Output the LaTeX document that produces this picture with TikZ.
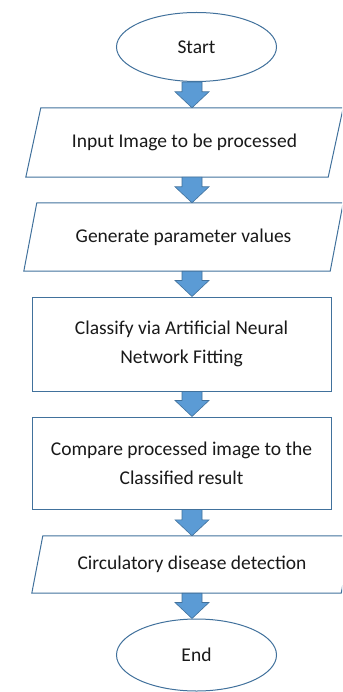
\documentclass[tikz,border=0pt]{standalone}
\usepackage{fontspec}
\setmainfont{Carlito}
\usetikzlibrary{shapes.geometric,calc}
\definecolor{edgeblue}{RGB}{65,113,156}
\definecolor{fillblue}{RGB}{91,155,213}
\tikzset{
  outline/.style={draw=edgeblue, line width=1pt},
  txt/.style={font=\fontsize{19.5}{29}\selectfont, text=black!90, align=center, inner sep=0pt},
  terminal/.style={txt, ellipse, outline, fill=white},
  procbox/.style={txt, rectangle, outline, fill=white},
  iobox/.style={txt, rectangle},
  arrowstyle/.style={fill=fillblue, draw=edgeblue, line width=0.6pt, line join=miter},
}
% parallelogram drawn over the frame of a plain node, top edge shifted right
\newcommand\ioframe[2]{\draw[outline] ($(#1.north west)+(#2,0)$) -- (#1.north east)
  -- ($(#1.south east)+(-#2,0)$) -- (#1.south west) -- cycle;}
% block arrow from the bottom of one node to the top of the next
\newcommand\flowarrow[2]{\draw[arrowstyle] let \p1=(#1.south -| axis), \p2=(#2.north -| axis) in
  (\x1-10pt,\y1) -- (\x1+10pt,\y1) -- (\x1+10pt,\y2+16pt) -- (\x1+17pt,\y2+16pt)
  -- (\x2,\y2) -- (\x1-17pt,\y2+16pt) -- (\x1-10pt,\y2+16pt) -- cycle;}
\begin{document}
\begin{tikzpicture}[x=1pt,y=-1pt]
\useasboundingbox (0,0) rectangle (342,692);
\clip (0,0) rectangle (342,692);
\coordinate (axis) at (192,0);

\node[terminal, minimum width=160pt, minimum height=69pt] (start) at (196.5,47) {Start};
\node[iobox, minimum width=317pt, minimum height=69pt] (input) at (184.5,142.5) {Input Image to be processed};
\node[iobox, minimum width=319pt, minimum height=68pt] (gen) at (183.5,237) {Generate parameter values};
\node[procbox, minimum width=299pt, minimum height=94pt] (classify) at (181.5,344) {Classify via Artificial Neural\\Network Fitting};
\node[procbox, minimum width=299pt, minimum height=92pt, text depth=0pt] (compare) at (181.5,463) {Compare processed image to the\\Classified result};
\node[iobox, minimum width=320pt, minimum height=57pt] (detect) at (192,564.5) {Circulatory disease detection};
\node[terminal, minimum width=160pt, minimum height=72pt] (end) at (196.5,655) {End};

\ioframe{input}{15}
\ioframe{gen}{13}
\ioframe{detect}{11}

\flowarrow{start}{input}
\flowarrow{input}{gen}
\flowarrow{gen}{classify}
\flowarrow{classify}{compare}
\flowarrow{compare}{detect}
\flowarrow{detect}{end}
\end{tikzpicture}
\end{document}
